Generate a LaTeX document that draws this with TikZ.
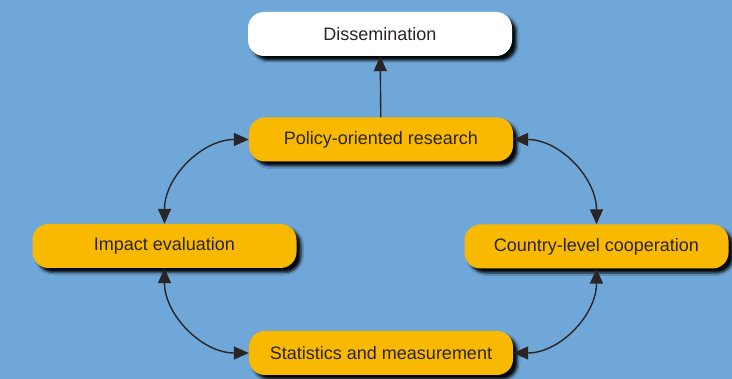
\documentclass[tikz,border=0pt]{standalone}
\usepackage{fontspec}
\setmainfont{Liberation Sans}
\usepackage{tikz}
\usetikzlibrary{arrows.meta,shadows.blur}
\definecolor{bgblue}{HTML}{6FA8D8}
\definecolor{boxorange}{HTML}{F9B900}
\definecolor{inkgray}{HTML}{2A2524}

\begin{document}
\begin{tikzpicture}[x=1pt,y=-1pt,
		box/.style={rounded corners=16pt, minimum width=264pt, minimum height=44pt, inner sep=0pt,
			fill=boxorange, text=inkgray, font=\fontsize{18}{20}\selectfont,
			blur shadow={shadow xshift=4.5pt, shadow yshift=-4.5pt, shadow opacity=95, shadow blur radius=2.5pt}},
		link/.style={draw=inkgray, line width=1.4pt}]
		\newcommand{\hd}{Triangle[length=15pt,width=13pt]}
		\fill[bgblue] (0,0) rectangle (732,379); %background
		\useasboundingbox (0,0) rectangle (732,379);
		\node[box, fill=white] (dis) at (380,34) {Dissemination};
		\node[box] (pol) at (381,139.5) {Policy-oriented research};
		\node[box] (imp) at (164.5,246) {Impact evaluation};
		\node[box] (cty) at (596.5,246.5) {Country-level cooperation};
		\node[box] (sta) at (381,353) {Statistics and measurement};
		\draw[link, -{\hd}] (pol) -- (dis); %up
		\foreach \a/\b/\o/\i in {pol.west/imp.north/180/90, pol.east/cty.north/0/90,
			imp.south/sta.west/270/180, cty.south/sta.east/270/0}{ %curved links
			\draw[link, {\hd}-{\hd}] (\a) to[out=\o,in=\i] (\b);
		}
	\end{tikzpicture}
\end{document}
